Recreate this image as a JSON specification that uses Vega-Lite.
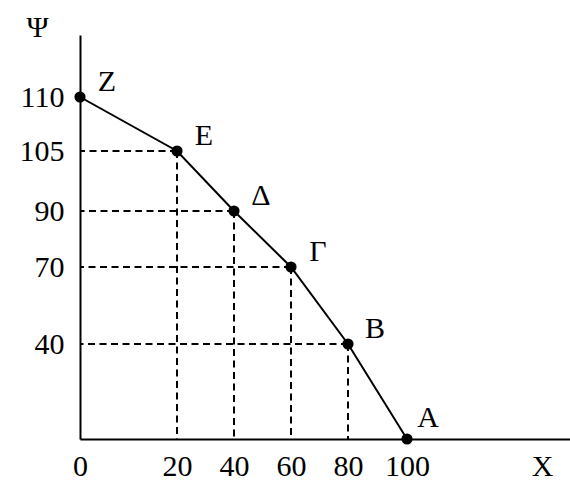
{
  "$schema": "https://vega.github.io/schema/vega-lite/v6.json",
  "width": 490,
  "height": 404,
  "autosize": {"type": "none"},
  "padding": {"left": 80, "top": 35, "right": 0, "bottom": 41},
  "background": "white",
  "config": {"view": {"stroke": null}},
  "data": {
    "values": [
      {"x": 0, "y": 110, "label": "Z"},
      {"x": 20, "y": 105, "label": "E"},
      {"x": 40, "y": 90, "label": "Δ"},
      {"x": 60, "y": 70, "label": "Γ"},
      {"x": 80, "y": 40, "label": "B"},
      {"x": 100, "y": 0, "label": "A"}
    ]
  },
  "layer": [
    {
      "mark": {"type": "line", "color": "black", "strokeWidth": 2},
      "encoding": {
        "x": {
          "field": "x", "type": "quantitative",
          "scale": {"domain": [0, 20, 40, 60, 80, 100, 130], "range": [0, 97, 154, 211, 268, 327, 490], "nice": false, "zero": false},
          "axis": {
            "values": [0, 20, 40, 60, 80, 100], "ticks": false, "grid": false,
            "domainColor": "black", "domainWidth": 2,
            "labelFont": "Liberation Serif", "labelFontSize": 30, "labelColor": "black",
            "labelPadding": 12, "labelFlush": false, "labelOverlap": false,
            "title": "X", "titleFont": "Liberation Serif", "titleFontSize": 30, "titleFontWeight": "normal",
            "titleColor": "black", "titleX": 462, "titleY": 27, "titleBaseline": "middle", "titleAlign": "center"
          }
        },
        "y": {
          "field": "y", "type": "quantitative",
          "scale": {"domain": [0, 40, 70, 90, 105, 110, 125], "range": [404, 309, 232, 176, 116, 62, 0], "nice": false, "zero": false},
          "axis": {
            "values": [40, 70, 90, 105, 110], "ticks": false, "grid": false,
            "domainColor": "black", "domainWidth": 2,
            "labelFont": "Liberation Serif", "labelFontSize": 30, "labelColor": "black",
            "labelPadding": 16, "labelFlush": false, "labelOverlap": false,
            "title": "Ψ", "titleFont": "Liberation Serif", "titleFontSize": 30, "titleFontWeight": "normal",
            "titleColor": "black", "titleAngle": 0, "titleX": -43, "titleY": -8, "titleBaseline": "middle", "titleAlign": "center"
          }
        }
      }
    },
    {
      "transform": [{"filter": "datum.label !== 'Z' && datum.label !== 'A'"}],
      "mark": {"type": "rule", "color": "black", "strokeWidth": 2, "strokeDash": [7, 4.5]},
      "encoding": {
        "y": {"field": "y", "type": "quantitative"},
        "x": {"field": "x", "type": "quantitative"},
        "x2": {"datum": 0}
      }
    },
    {
      "transform": [{"filter": "datum.label !== 'Z' && datum.label !== 'A'"}],
      "mark": {"type": "rule", "color": "black", "strokeWidth": 2, "strokeDash": [7, 4.5]},
      "encoding": {
        "x": {"field": "x", "type": "quantitative"},
        "y": {"field": "y", "type": "quantitative"},
        "y2": {"datum": 0}
      }
    },
    {
      "mark": {"type": "circle", "color": "black", "opacity": 1, "size": 125},
      "encoding": {
        "x": {"field": "x", "type": "quantitative"},
        "y": {"field": "y", "type": "quantitative"}
      }
    },
    {
      "transform": [{"filter": "datum.label !== 'A'"}],
      "mark": {"type": "text", "font": "Liberation Serif", "fontSize": 30, "color": "black", "align": "center", "baseline": "middle", "dx": 27, "dy": -15},
      "encoding": {
        "x": {"field": "x", "type": "quantitative"},
        "y": {"field": "y", "type": "quantitative"},
        "text": {"field": "label"}
      }
    },
    {
      "transform": [{"filter": "datum.label === 'A'"}],
      "mark": {"type": "text", "font": "Liberation Serif", "fontSize": 30, "color": "black", "align": "center", "baseline": "middle", "dx": 21, "dy": -21},
      "encoding": {
        "x": {"field": "x", "type": "quantitative"},
        "y": {"field": "y", "type": "quantitative"},
        "text": {"field": "label"}
      }
    }
  ]
}
